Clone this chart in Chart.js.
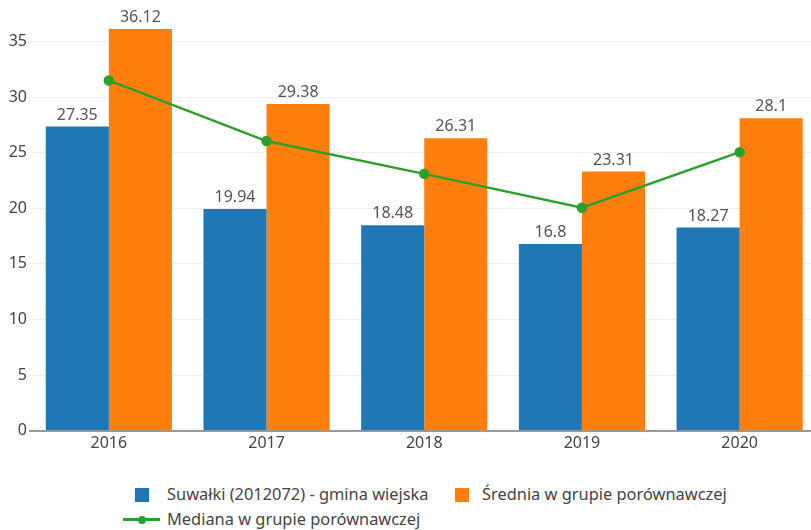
<!DOCTYPE html>
<html>
<head>
<meta charset="utf-8">
<script src="https://cdn.jsdelivr.net/npm/chart.js@4/dist/chart.umd.min.js"></script>
<style>
  html, body { margin: 0; padding: 0; background: #fff; width: 811px; height: 530px; overflow: hidden; }
  #wrap { position: absolute; left: 0; top: 0; width: 830px; height: 460px; }
  .leg { position: absolute; font-family: "Noto Sans", sans-serif; font-size: 16.4px; color: #444; white-space: nowrap; line-height: 20px; }
  .box { position: absolute; width: 14px; height: 14px; }
  .ln { position: absolute; height: 3px; }
  .dot { position: absolute; width: 8px; height: 8px; border-radius: 50%; }
</style>
</head>
<body>
<div id="wrap"><canvas id="c" width="830" height="460"></canvas></div>
<div id="legend"></div>
<script>
const categories = ["2016", "2017", "2018", "2019", "2020"];
const seriesNames = ["Suwałki (2012072) - gmina wiejska", "Średnia w grupie porównawczej", "Mediana w grupie porównawczej"];
const gminaValues = [27.35, 19.94, 18.48, 16.8, 18.27];
const sredniaValues = [36.12, 29.38, 26.31, 23.31, 28.1];
const medianaValues = [31.5, 26.05, 23.1, 20.05, 25.05];
const colors = ["#1f77b4", "#ff7f0e", "#2ca02c"];

const valueLabels = {
  id: 'valueLabels',
  afterDatasetsDraw(chart) {
    const ctx = chart.ctx;
    ctx.save();
    ctx.font = '16px "Noto Sans", sans-serif';
    ctx.fillStyle = '#555';
    ctx.textAlign = 'center';
    ctx.textBaseline = 'alphabetic';
    chart.data.datasets.forEach((ds, i) => {
      if (ds.type !== 'bar') return;
      const meta = chart.getDatasetMeta(i);
      meta.data.forEach((el, j) => {
        ctx.fillText(String(ds.data[j]), el.x, el.y - 7);
      });
    });
    ctx.restore();
  }
};

new Chart(document.getElementById('c'), {
  data: {
    labels: categories,
    datasets: [
      { type: 'bar', label: seriesNames[0], data: gminaValues, backgroundColor: colors[0], order: 1,
        categoryPercentage: 0.8, barPercentage: 1.0, borderWidth: 0 },
      { type: 'bar', label: seriesNames[1], data: sredniaValues, backgroundColor: colors[1], order: 1,
        categoryPercentage: 0.8, barPercentage: 1.0, borderWidth: 0 },
      { type: 'line', label: seriesNames[2], data: medianaValues, borderColor: colors[2], backgroundColor: colors[2],
        borderWidth: 2.5, pointRadius: 4, pointHoverRadius: 4, tension: 0, order: 0 }
    ]
  },
  options: {
    responsive: false,
    animation: false,
    events: [],
    layout: { padding: { top: 19.3, right: 11.5, left: 0, bottom: 0 } },
    plugins: { legend: { display: false }, tooltip: { enabled: false } },
    scales: {
      x: {
        grid: { display: false, drawTicks: false },
        border: { display: true, color: '#999', width: 2 },
        ticks: { color: '#444', font: { family: 'Noto Sans', size: 16 }, padding: 3, maxRotation: 0 },
        afterFit(s) { s.height = 29.3; }
      },
      y: {
        min: 0, max: 37,
        grid: { color: (c) => c.tick && c.tick.value === 0 ? 'rgba(0,0,0,0)' : '#eeeeee', lineWidth: 1, drawTicks: false },
        border: { display: false },
        ticks: { stepSize: 5, color: '#444', font: { family: 'Noto Sans', size: 16 }, padding: 3 },
        afterBuildTicks(s) { s.ticks = s.ticks.filter(t => t.value % 5 === 0); },
        afterFit(s) { s.width = 30; }
      }
    }
  },
  plugins: [valueLabels]
});

// HTML legend
const lg = document.getElementById('legend');
function add(html) { lg.insertAdjacentHTML('beforeend', html); }
add(`<div class="box" style="left:135px;top:488px;background:${colors[0]}"></div>`);
add(`<div class="leg" style="left:167px;top:484px">${seriesNames[0]}</div>`);
add(`<div class="box" style="left:455px;top:488px;background:${colors[1]}"></div>`);
add(`<div class="leg" style="left:482px;top:484px">${seriesNames[1]}</div>`);
add(`<div class="ln" style="left:123px;top:518px;width:37px;background:${colors[2]}"></div>`);
add(`<div class="dot" style="left:137.5px;top:515.5px;background:${colors[2]}"></div>`);
add(`<div class="leg" style="left:167px;top:509px">${seriesNames[2]}</div>`);
</script>
</body>
</html>
